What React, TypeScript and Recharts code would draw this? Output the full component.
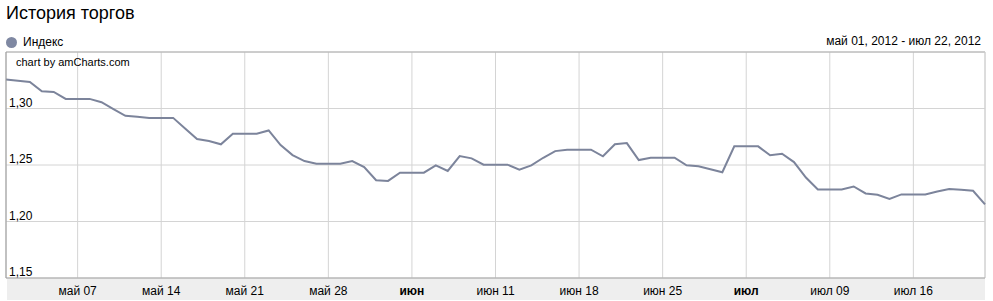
import { CartesianGrid, Line, LineChart, ReferenceLine, XAxis, YAxis } from 'recharts';

// daily index values, May 01 .. Jul 22 2012
const mayValues = [
  1.3256, 1.3245, 1.3235, 1.3153, 1.3146, 1.3085, 1.3085, 1.3085, 1.3056, 1.2995,
  1.2935, 1.2926, 1.2917, 1.2917, 1.2917, 1.2822, 1.273, 1.2712, 1.2683, 1.2776,
  1.2776, 1.2776, 1.2806, 1.2676, 1.2588, 1.2535, 1.2511, 1.2511, 1.2511, 1.2535,
  1.2482,
];
const juneValues = [
  1.2365, 1.2359, 1.2432, 1.2432, 1.2432, 1.2497, 1.2447, 1.2579, 1.2559, 1.2503,
  1.2503, 1.2503, 1.2459, 1.2497, 1.2564, 1.2623, 1.2635, 1.2635, 1.2635, 1.2577,
  1.2683, 1.2694, 1.2544, 1.2564, 1.2564, 1.2564, 1.2497, 1.2489, 1.2462, 1.2436,
];
const julyValues = [
  1.2665, 1.2665, 1.2665, 1.2586, 1.26, 1.2526, 1.2389, 1.2284, 1.2284, 1.2284,
  1.231, 1.2248, 1.2237, 1.2199, 1.224, 1.224, 1.224, 1.2266, 1.2287, 1.228,
  1.2272, 1.2152,
];

const tickDays = [6, 13, 20, 27, 34, 41, 48, 55, 62, 69, 76];
const tickLabels = ['май 07', 'май 14', 'май 21', 'май 28', 'июн', 'июн 11', 'июн 18', 'июн 25', 'июл', 'июл 09', 'июл 16'];
const yTicks = [1.15, 1.2, 1.25, 1.3, 1.35];

const data = [...mayValues, ...juneValues, ...julyValues].map((value, day) => ({ day, value }));
const lastDay = data.length - 1;

const FONT = 'Arial, "Liberation Sans", sans-serif';
const LINE = '#7c849b';

function XTick({ x, y, payload }: any) {
  const i = tickDays.indexOf(payload.value);
  const label = tickLabels[i] ?? '';
  const bold = !/\d/.test(label);
  return (
    <text x={x} y={y} dy="0.71em" textAnchor="middle" fontSize={12} fontFamily={FONT} fill="#000" fontWeight={bold ? 'bold' : 'normal'}>
      {label}
    </text>
  );
}

function YTick({ x, y, payload }: any) {
  if (payload.value >= 1.35) return <g />;
  return (
    <text x={x} y={y - 2} fontSize={12} fontFamily={FONT} fill="#000" textAnchor="start">
      {payload.value.toFixed(2).replace('.', ',')}
    </text>
  );
}

export default function App() {
  return (
    <div style={{ position: 'relative', width: 993, height: 301, fontFamily: FONT, color: '#000' }}>
      <style>{'body{margin:0}'}</style>
      <div style={{ position: 'absolute', left: 7, top: 278, width: 978, height: 22, background: '#eeeeee' }} />
      <div style={{ position: 'absolute', left: 6, top: 3, fontSize: 18 }}>История торгов</div>
      <div style={{ position: 'absolute', left: 6, top: 35, fontSize: 12, display: 'flex', alignItems: 'center' }}>
        <span style={{ width: 11, height: 11, borderRadius: '50%', background: '#7f88a2', display: 'inline-block', marginRight: 6 }} />
        Индекс
      </div>
      <div style={{ position: 'absolute', right: 12, top: 34, fontSize: 12 }}>май 01, 2012 - июл 22, 2012</div>
      <LineChart width={993} height={301} data={data} margin={{ top: 52, right: 8, bottom: 0, left: 6 }}>
        <CartesianGrid stroke="#d4d4d4" />
        <XAxis
          dataKey="day"
          type="number"
          domain={[0, lastDay]}
          ticks={tickDays}
          interval={0}
          height={23}
          tickSize={0}
          tickMargin={8}
          tick={<XTick />}
          axisLine={{ stroke: '#a8a8a8' }}
        />
        <YAxis
          type="number"
          domain={[1.15, 1.35]}
          ticks={yTicks}
          interval={0}
          width={1}
          mirror
          tickLine={false}
          tickSize={0}
          tickMargin={3}
          tick={<YTick />}
          axisLine={{ stroke: '#999999' }}
        />
        <ReferenceLine y={1.35} stroke="#b0b0b0" />
        <ReferenceLine x={lastDay} stroke="#d0d0d0" />
        <Line type="linear" dataKey="value" stroke={LINE} strokeWidth={2} dot={false} isAnimationActive={false} />
      </LineChart>
      <div style={{ position: 'absolute', left: 16, top: 56, fontSize: 11 }}>chart by amCharts.com</div>
    </div>
  );
}
